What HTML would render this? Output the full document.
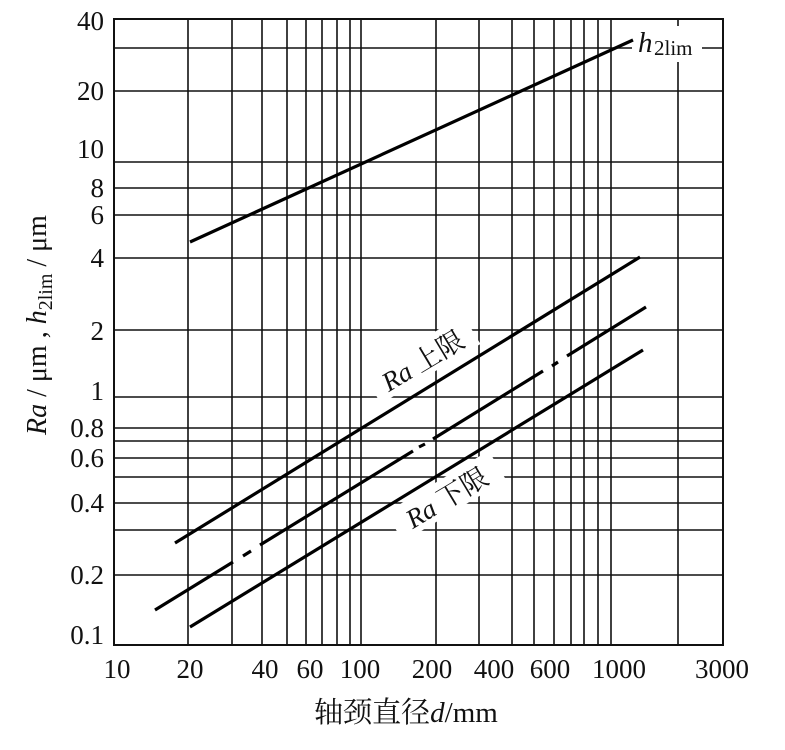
<!DOCTYPE html>
<html><head><meta charset="utf-8"><style>
html,body{margin:0;padding:0;background:#fff;}
svg{display:block;}
text{font-family:"Liberation Serif","Noto Serif CJK SC",serif;fill:#111;}
</style></head><body>
<svg width="785" height="750" viewBox="0 0 785 750" xmlns="http://www.w3.org/2000/svg">
<g stroke="#111" stroke-width="1.6" fill="none">
<line x1="188" y1="19" x2="188" y2="645"/><line x1="232" y1="19" x2="232" y2="645"/>
<line x1="262" y1="19" x2="262" y2="645"/><line x1="287" y1="19" x2="287" y2="645"/>
<line x1="306" y1="19" x2="306" y2="645"/><line x1="322" y1="19" x2="322" y2="645"/>
<line x1="337" y1="19" x2="337" y2="645"/><line x1="350" y1="19" x2="350" y2="645"/>
<line x1="361" y1="19" x2="361" y2="645"/><line x1="436" y1="19" x2="436" y2="645"/>
<line x1="479" y1="19" x2="479" y2="645"/><line x1="512" y1="19" x2="512" y2="645"/>
<line x1="534" y1="19" x2="534" y2="645"/><line x1="554" y1="19" x2="554" y2="645"/>
<line x1="571" y1="19" x2="571" y2="645"/><line x1="584" y1="19" x2="584" y2="645"/>
<line x1="598" y1="19" x2="598" y2="645"/><line x1="611" y1="19" x2="611" y2="645"/>
<line x1="678" y1="19" x2="678" y2="645"/>
<line x1="114" y1="48" x2="723" y2="48"/><line x1="114" y1="91" x2="723" y2="91"/>
<line x1="114" y1="162" x2="723" y2="162"/><line x1="114" y1="188" x2="723" y2="188"/>
<line x1="114" y1="215" x2="723" y2="215"/><line x1="114" y1="258" x2="723" y2="258"/>
<line x1="114" y1="330" x2="723" y2="330"/><line x1="114" y1="397" x2="723" y2="397"/>
<line x1="114" y1="428" x2="723" y2="428"/><line x1="114" y1="441" x2="723" y2="441"/>
<line x1="114" y1="458" x2="723" y2="458"/><line x1="114" y1="477" x2="723" y2="477"/>
<line x1="114" y1="503" x2="723" y2="503"/><line x1="114" y1="530" x2="723" y2="530"/>
<line x1="114" y1="575" x2="723" y2="575"/>
<rect x="114" y="19" width="609" height="626" stroke-width="2"/>
</g>
<rect x="632" y="26" width="70" height="36" fill="#fff"/>
<g transform="translate(423,361) rotate(-31)"><rect x="-58" y="-19" width="116" height="34" fill="#fff"/>
<text x="0" y="9" font-size="27" text-anchor="middle"><tspan font-style="italic">Ra</tspan> 上限</text></g>
<g transform="translate(447,498) rotate(-31)"><rect x="-60" y="-19" width="120" height="34" fill="#fff"/>
<text x="0" y="9" font-size="27" text-anchor="middle"><tspan font-style="italic">Ra</tspan> 下限</text></g>
<text x="638" y="52" font-size="29" font-style="italic">h</text><text x="654" y="55" font-size="21">2lim</text>
<g stroke="#000" stroke-width="3.2" fill="none" stroke-linecap="butt">
<line x1="190" y1="242" x2="633" y2="40"/>
<line x1="175" y1="543" x2="640" y2="257"/>
<line x1="190" y1="627" x2="643" y2="350"/>
<path d="M155 610 L233 562 M243 556 L251 551 M260 545 L413 451 M419 447 L425 444 M433 439 L543 371 M552 366 L558 362 M567 356 L646 307"/>
</g>
<g font-size="27" text-anchor="end">
<text x="104" y="30">40</text><text x="104" y="100">20</text><text x="104" y="158">10</text>
<text x="104" y="197">8</text><text x="104" y="224">6</text><text x="104" y="267">4</text>
<text x="104" y="340">2</text><text x="104" y="400">1</text><text x="104" y="437">0.8</text>
<text x="104" y="467">0.6</text><text x="104" y="512">0.4</text><text x="104" y="584">0.2</text>
<text x="104" y="644">0.1</text>
</g>
<g font-size="27" text-anchor="middle">
<text x="117" y="678">10</text><text x="190" y="678">20</text><text x="265" y="678">40</text>
<text x="310" y="678">60</text><text x="360" y="678">100</text><text x="432" y="678">200</text>
<text x="494" y="678">400</text><text x="550" y="678">600</text><text x="619" y="678">1000</text>
<text x="722" y="678">3000</text>
</g>
<text x="406" y="722" font-size="29" text-anchor="middle">轴颈直径<tspan font-style="italic">d</tspan>/mm</text>
<g transform="translate(46,325) rotate(-90)">
<text x="0" y="0" font-size="28" text-anchor="middle"><tspan font-style="italic">Ra</tspan> / μm , <tspan font-style="italic">h</tspan><tspan font-size="20" dy="6">2lim</tspan><tspan dy="-6"> / μm</tspan></text>
</g>
</svg>
</body></html>
